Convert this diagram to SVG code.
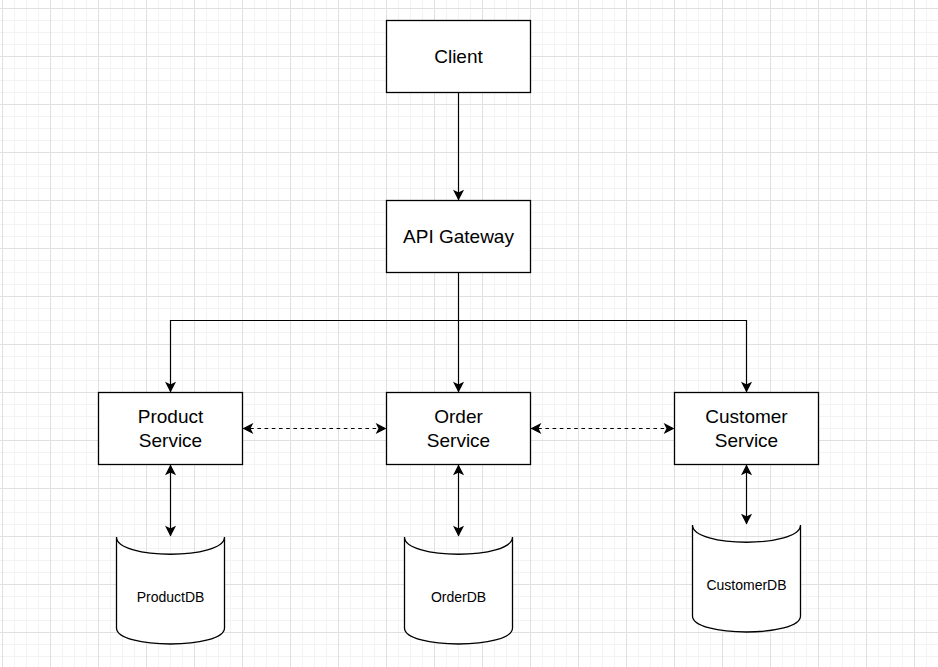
<svg xmlns="http://www.w3.org/2000/svg" width="938" height="667" viewBox="0 0 938 667">
  <style>
    .box { fill: #ffffff; stroke: #000000; stroke-width: 1.3; }
    .db { fill: #ffffff; stroke: #000000; stroke-width: 1.3; }
    .lbl { font-family: "Liberation Sans", Arial, sans-serif; font-size: 19px; fill: #000000; text-anchor: middle; }
    .dbl { font-family: "Liberation Sans", Arial, sans-serif; font-size: 14px; fill: #000000; text-anchor: middle; }
    .edge { fill: none; stroke: #000000; stroke-width: 1.2; }
    .dash { stroke-dasharray: 3.6 3.6; }
  </style>
  <defs>
    <pattern id="grid" width="48" height="48" patternUnits="userSpaceOnUse" x="2" y="8">
      <path d="M12.5,0V48M24.5,0V48M36.5,0V48M0,12.5H48M0,24.5H48M0,36.5H48" fill="none" stroke="#f3f3f3" stroke-width="1"/>
      <path d="M0.5,0V48M0,0.5H48" fill="none" stroke="#e0e0e0" stroke-width="1"/>
    </pattern>
    <marker id="arr" viewBox="-11 -6 12 12" refX="0" refY="0" markerWidth="12" markerHeight="12" markerUnits="userSpaceOnUse" orient="auto-start-reverse">
      <path d="M-0.8,0 L-9,-4.2 L-6.9,0 L-9,4.2 Z" fill="#000000" stroke="#000000" stroke-width="1.2"/>
    </marker>
  </defs>

  <rect x="0" y="0" width="938" height="667" fill="#ffffff"/>
  <rect x="0" y="0" width="938" height="667" fill="url(#grid)"/>

  <g id="connectors">
    <path class="edge" d="M458.5,92.5 V200" marker-end="url(#arr)"/>
    <path class="edge" d="M458.5,272.5 V392" marker-end="url(#arr)"/>
    <path class="edge" d="M458.5,320.5 H170.5 V392" marker-end="url(#arr)"/>
    <path class="edge" d="M458.5,320.5 H746.5 V392" marker-end="url(#arr)"/>
    <path class="edge dash" d="M243,428.5 H386" marker-start="url(#arr)" marker-end="url(#arr)"/>
    <path class="edge dash" d="M531,428.5 H674" marker-start="url(#arr)" marker-end="url(#arr)"/>
    <path class="edge" d="M170.5,465 V536" marker-start="url(#arr)" marker-end="url(#arr)"/>
    <path class="edge" d="M458.5,465 V536" marker-start="url(#arr)" marker-end="url(#arr)"/>
    <path class="edge" d="M746.5,465 V524" marker-start="url(#arr)" marker-end="url(#arr)"/>
  </g>

  <g id="client">
    <rect class="box" x="386.5" y="20.5" width="144" height="72"/>
    <text class="lbl" x="458.5" y="63">Client</text>
  </g>
  <g id="api-gateway">
    <rect class="box" x="386.5" y="200.5" width="144" height="72"/>
    <text class="lbl" x="458.5" y="243">API Gateway</text>
  </g>
  <g id="product-service">
    <rect class="box" x="98.5" y="392.5" width="144" height="72"/>
    <text class="lbl" x="170.5" y="423">Product</text>
    <text class="lbl" x="170.5" y="446.5">Service</text>
  </g>
  <g id="order-service">
    <rect class="box" x="386.5" y="392.5" width="144" height="72"/>
    <text class="lbl" x="458.5" y="423">Order</text>
    <text class="lbl" x="458.5" y="446.5">Service</text>
  </g>
  <g id="customer-service">
    <rect class="box" x="674.5" y="392.5" width="144" height="72"/>
    <text class="lbl" x="746.5" y="423">Customer</text>
    <text class="lbl" x="746.5" y="446.5">Service</text>
  </g>

  <g id="product-db">
    <path class="db" d="M116.5,537 C116.5,560 224.5,560 224.5,537 L224.5,628 C224.5,649.3 116.5,649.3 116.5,628 Z"/>
    <text class="dbl" x="170.5" y="601.5">ProductDB</text>
  </g>
  <g id="order-db">
    <path class="db" d="M404.5,537 C404.5,560 512.5,560 512.5,537 L512.5,628 C512.5,649.3 404.5,649.3 404.5,628 Z"/>
    <text class="dbl" x="458.5" y="601.5">OrderDB</text>
  </g>
  <g id="customer-db">
    <path class="db" d="M692.5,525 C692.5,548 800.5,548 800.5,525 L800.5,616 C800.5,637.3 692.5,637.3 692.5,616 Z"/>
    <text class="dbl" x="746.5" y="589.5">CustomerDB</text>
  </g>
</svg>
